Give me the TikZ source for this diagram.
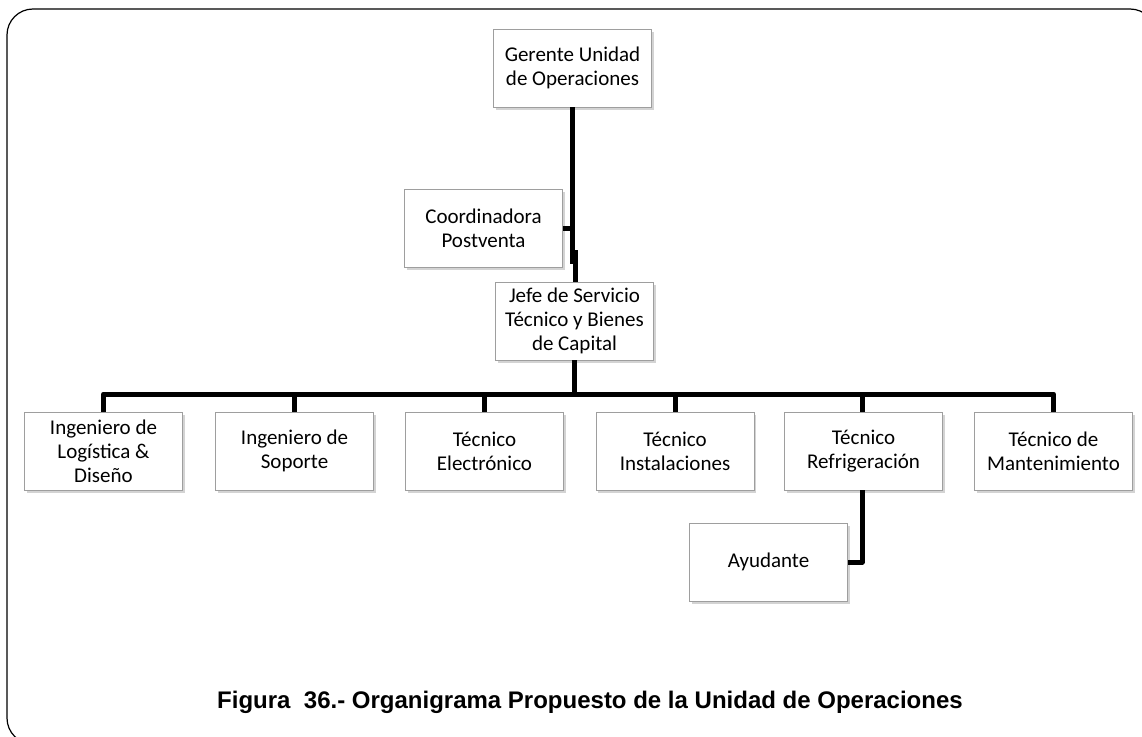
\documentclass[tikz,border=0pt]{standalone}
\usepackage{fontspec}
\setmainfont{Carlito}
\newfontfamily\capfont{Liberation Sans}
\usetikzlibrary{shadows}
\begin{document}
\begin{tikzpicture}[x=1pt,y=-1pt,
  role/.style={draw=black!38, line width=0.8pt, fill=white,
    minimum width=158pt, minimum height=78pt, inner sep=2pt,
    align=center, font=\fontsize{21}{24}\selectfont,
    drop shadow={opacity=0.35, shadow xshift=2pt, shadow yshift=-3pt}},
  link/.style={line width=5pt, draw=black, line join=round}]
\useasboundingbox (0,0) rectangle (1142,736);
\begin{scope}
\clip (0,0) rectangle (1142,736);
\draw[line width=1.2pt, rounded corners=26pt] (7,9) rectangle (1156,744);
\end{scope}

% top levels
\node[role] (ger) at (572.5,68) {Gerente Unidad\\de Operaciones};
\node[role] (coo) at (483.5,228) {Coordinadora\\Postventa};
\node[role] (jef) at (574.5,321) {Jefe de Servicio\\Técnico y Bienes\\de Capital};

% staff row
\node[role] (ing1) at (103.5,451) {Ingeniero de\\Logística \&\\Diseño};
\node[role] (ing2) at (294.5,451) {Ingeniero de\\Soporte};
\node[role] (tel) at (484.5,451) {Técnico\\Electrónico};
\node[role] (tin) at (675,451) {Técnico\\Instalaciones};
\node[role] (tre) at (863.5,451) {Técnico\\Refrigeración};
\node[role] (tma) at (1053.5,451) {Técnico de\\Mantenimiento};
\node[role] (ayu) at (768.5,562) {Ayudante};

\coordinate (bus) at (574,394);
\coordinate (ayc) at (862,562);

% connectors
\draw[link] (ger.south -| 572,0) -- (572,264);
\draw[link] (coo.east) -- (574,228);
\draw[link] (575,250) -- (jef.north -| 575,0);
\draw[link] (jef.south -| bus) -- (bus);
\draw[link] (ing1.north) -- (ing1.north |- bus) -- (tma.north |- bus) -- (tma.north);
\draw[link] (ing2.north) -- (ing2.north |- bus);
\draw[link] (tel.north) -- (tel.north |- bus);
\draw[link] (tin.north) -- (tin.north |- bus);
\draw[link] (tre.north -| ayc) -- (ayc |- bus);
\draw[link] (tre.south -| ayc) -- (ayc) -- (ayu.east);

% caption
\node[font=\capfont\bfseries\fontsize{24}{28}\selectfont, anchor=base] (cap) at (590,708)
  {Figura\ \ 36.- Organigrama Propuesto de la Unidad de Operaciones};
\end{tikzpicture}
\end{document}
